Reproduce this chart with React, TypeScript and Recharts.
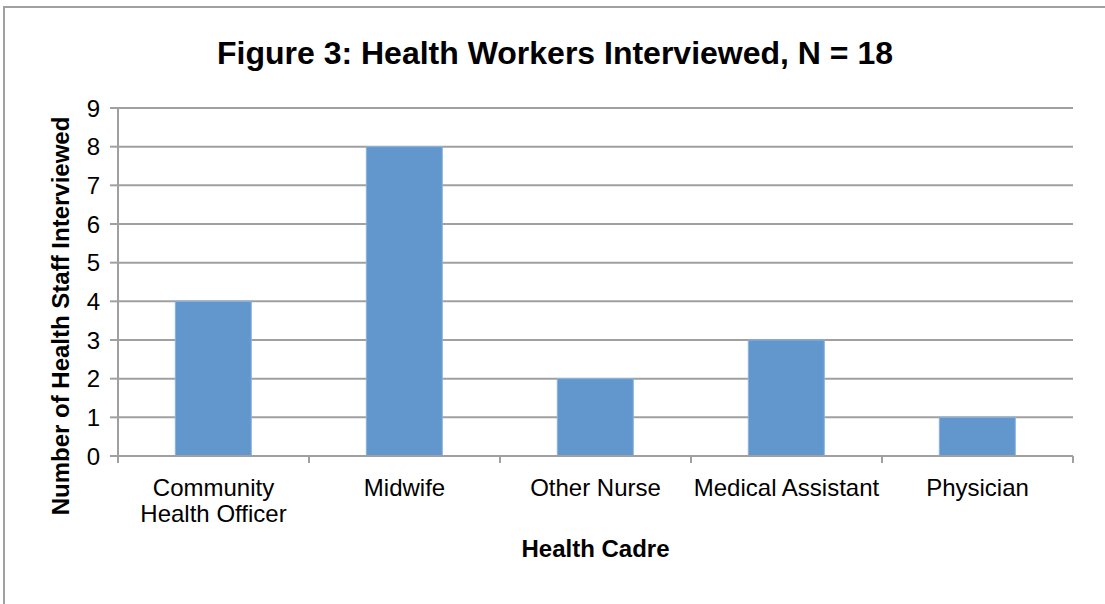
import React from 'react';
import { BarChart, Bar, XAxis, YAxis, CartesianGrid, Label } from 'recharts';

const cadres = ['Community Health Officer', 'Midwife', 'Other Nurse', 'Medical Assistant', 'Physician'];
const interviewed = [4, 8, 2, 3, 1];
const yTicks = [0, 1, 2, 3, 4, 5, 6, 7, 8, 9];

const data = cadres.map((name, i) => ({ name, value: interviewed[i] }));

const W = 1105;
const H = 604;
const margin = { top: 108, right: 32, bottom: 0, left: 0 };
const yAxisWidth = 118;
const xAxisHeight = 148;
const plotW = W - margin.left - margin.right - yAxisWidth;
const band = plotW / cadres.length;
const font = '"Liberation Sans", Arial, sans-serif';

const splitLabel = (s: string) => {
  if (s.length <= 20) return [s];
  const idx = s.indexOf(' ');
  return [s.slice(0, idx), s.slice(idx + 1)];
};

const CadreTick = (props: any) => {
  const { x, y, payload, index } = props;
  const lines = splitLabel(payload.value);
  const left = x - band / 2;
  return (
    <g>
      <line x1={left} x2={left} y1={y - 8} y2={y - 1} stroke="#a0a0a0" strokeWidth={2} />
      {index === cadres.length - 1 && (
        <line x1={left + band} x2={left + band} y1={y - 8} y2={y - 1} stroke="#a0a0a0" strokeWidth={2} />
      )}
      <text x={x} y={y + 32} textAnchor="middle" fontFamily={font} fontSize={24} fill="#000">
        {lines.map((l, i) => (
          <tspan key={i} x={x} dy={i === 0 ? 0 : 26}>{l}</tspan>
        ))}
      </text>
    </g>
  );
};

export default function App() {
  return (
    <div style={{ position: 'absolute', left: 0, top: 0, width: W, height: H, background: '#fff', overflow: 'hidden' }}>
      <div style={{ position: 'absolute', left: 3, top: 6, width: 1120, height: 596, borderLeft: '2px solid #a0a0a0', borderTop: '2px solid #a0a0a0', borderBottom: '1px solid #eee' }} />
      <BarChart width={W} height={H} data={data} margin={margin} barCategoryGap="30%">
        <text x={555} y={64} textAnchor="middle" fontFamily={font} fontWeight="bold" fontSize={32} fill="#000">
          Figure 3: Health Workers Interviewed, N = 18
        </text>
        <CartesianGrid vertical={false} stroke="#a0a0a0" strokeWidth={2} />
        <XAxis
          dataKey="name"
          interval={0}
          tickLine={false}
          axisLine={{ stroke: '#a0a0a0', strokeWidth: 2 }}
          tick={<CadreTick />}
          height={xAxisHeight}
        >
          <Label value="Health Cadre" position="insideTop" offset={84} fontFamily={font} fontWeight="bold" fontSize={24} fill="#000" />
        </XAxis>
        <YAxis
          width={yAxisWidth}
          domain={[0, 9]}
          ticks={yTicks}
          interval={0}
          tickSize={8}
          tickLine={{ stroke: '#a0a0a0', strokeWidth: 2 }}
          axisLine={{ stroke: '#a0a0a0', strokeWidth: 2 }}
          tick={{ fontFamily: font, fontSize: 24, fill: '#000' }}
          tickMargin={10}
        >
          <Label
            content={() => (
              <text x={60} y={316} transform="rotate(-90 60 316)" textAnchor="middle" dominantBaseline="central" fontFamily={font} fontWeight="bold" fontSize={24} fill="#000">
                Number of Health Staff Interviewed
              </text>
            )}
          />
        </YAxis>
        <Bar dataKey="value" fill="#6197cd" stroke="#8ab3dc" strokeWidth={1} isAnimationActive={false} />
      </BarChart>
    </div>
  );
}
